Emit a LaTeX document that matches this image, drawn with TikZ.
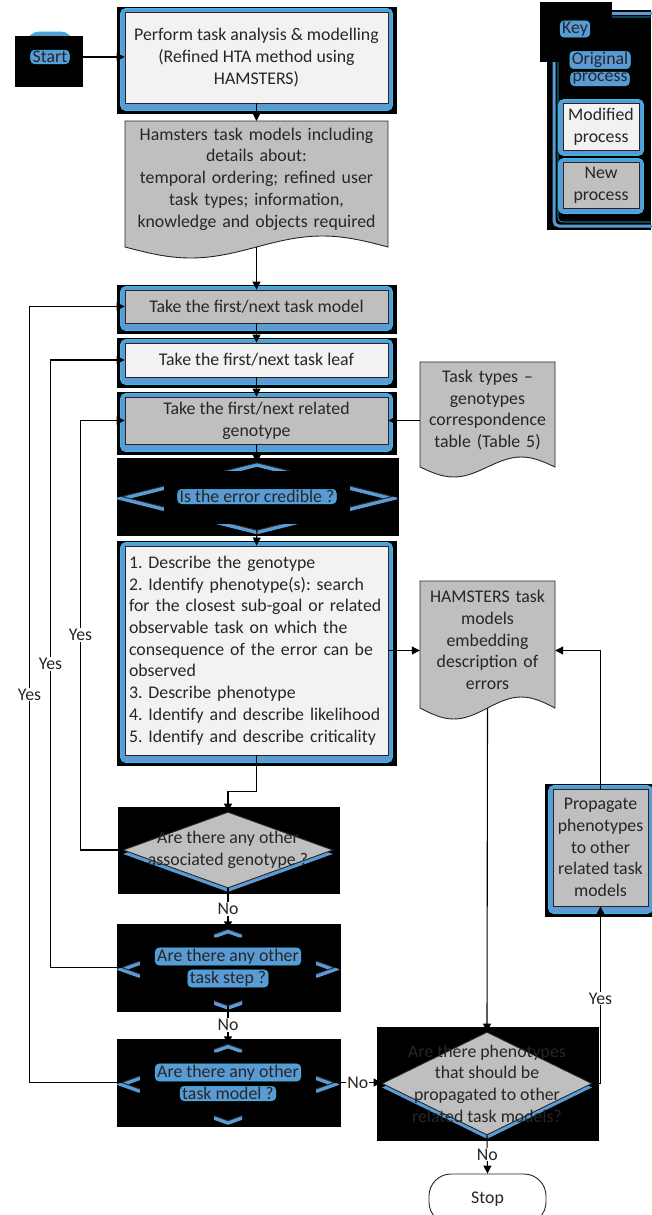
\documentclass[tikz,border=0pt]{standalone}
\usepackage{fontspec}
\setmainfont{Carlito}
\frenchspacing
\usetikzlibrary{arrows.meta,calc,shapes.geometric,backgrounds}
\definecolor{shadowblue}{RGB}{91,155,213}
\definecolor{edgecyan}{RGB}{45,190,235}
\definecolor{boxgray}{RGB}{191,191,191}
\definecolor{boxlight}{RGB}{242,242,242}
\definecolor{ink}{RGB}{38,38,38}

\begin{document}
\begin{tikzpicture}[x=1pt,y=-1pt,>={Triangle[length=8pt,width=8pt]},
  every node/.style={font=\fontsize{17.8}{21.7}\selectfont,text=ink},
  proc/.style={draw=ink,line width=0.9pt,inner sep=0pt,align=center,minimum width=263pt},
  doctext/.style={inner xsep=4pt,align=center},
  docshape/.style={fill=boxgray,draw=ink,line width=0.9pt},
  boxshadow/.style={fill=shadowblue,draw=edgecyan,line width=0.8pt,rounded corners=5pt},
  dia/.style={shape=diamond,inner sep=0pt,minimum width=210pt,minimum height=76pt},
  graydia/.style={dia,fill=boxgray,draw=ink,line width=0.9pt,
    preaction={fill=shadowblue,transform canvas={yshift=-4pt}}},
  hl/.style={fill=shadowblue,draw=edgecyan,line width=0.5pt,rounded corners=4pt,
    inner xsep=2pt,inner ysep=1pt},
  lbl/.style={fill=white,inner sep=1pt},
  flow/.style={draw=black,line width=1.1pt,->}]
  \useasboundingbox (0,0) rectangle (651,1215);

  % main column
  \node[hl] (start) at (50,57) {Start};
  \node[proc,fill=boxlight,minimum height=91pt] (perform) at (256.5,57.5)
    {Perform task analysis \& modelling\\(Refined HTA method using\\HAMSTERS)};
  \node[doctext,text width=255pt] (tasksdoc) at (256.5,179)
    {Hamsters task models including\\details about:\\temporal ordering; refined user\\task types; information,\\knowledge and objects required};
  \coordinate (tasksdoct) at (256.5,121);
  \coordinate (tasksdocb) at (256.5,247);
  \node[proc,fill=boxgray,minimum height=33pt] (taskmodel) at (256.5,306.5) {Take the first/next task model};
  \node[proc,fill=boxlight,minimum height=34pt] (taskleaf) at (256.5,360) {Take the first/next task leaf};
  \node[proc,fill=boxgray,minimum height=47pt] (genotype) at (256.5,420.5) {Take the first/next related\\genotype};
  \node[dia,minimum width=270pt,minimum height=67pt] (credible) at (257,496.5) {};
  \node[proc,fill=boxlight,minimum height=209pt,align=left,text width=255pt,inner xsep=4pt] (describe) at (256.5,650.5)
    {1. Describe the genotype\\2. Identify phenotype(s): search\\for the closest sub-goal or related\\observable task on which the\\consequence of the error can be\\observed\\3. Describe phenotype\\4. Identify and describe likelihood\\5. Identify and describe criticality};
  \node[graydia] (anyassoc) at (228,850) {};
  \node[align=center] (anyassoctxt) at (anyassoc) {Are there any other\\associated genotype ?};
  \node[dia,minimum width=212pt] (anystep) at (228,967.5) {};
  \node[dia,minimum width=212pt] (anymodel) at (228,1082.5) {};

  % right column
  \node[doctext,text width=127pt] (typesdoc) at (487.5,410)
    {Task types –\\genotypes\\correspondence\\table (Table 5)};
  \node[doctext,text width=127pt] (hamdoc) at (487.5,640)
    {HAMSTERS task\\models\\embedding\\description of\\errors};
  \coordinate (hamdocb) at (487.5,708);
  \node[proc,fill=boxgray,minimum width=95pt,minimum height=117pt] (propagate) at (600.5,847.5)
    {Propagate\\phenotypes\\to other\\related task\\models};
  \node[graydia,minimum height=103pt] (propq) at (487,1083.5) {};
  \node[align=center] (propqtxt) at (propq)
    {Are there phenotypes\\that should be\\propagated to other\\related task models?};
  \node[draw=ink,line width=0.9pt,fill=white,rounded corners=22pt,minimum width=117pt,minimum height=50pt] (stop) at (487.5,1199) {Stop};

  % key
  \node[hl] (keytitle) at (575,29) {Key};
  \node[hl] (keyorig1) at (600,60) {Original};
  \node[hl] (keyorig2) at (600,79) {process};
  \node[proc,fill=boxlight,minimum width=76pt,minimum height=47pt] (keymod) at (601,126.5) {Modified\\process};
  \node[proc,fill=boxgray,minimum width=76pt,minimum height=46pt] (keynew) at (601,185) {New\\process};

  % pieces of the dark decisions
  \foreach \q/\cx/\cy/\tx in {credible/42/15/44,anystep/18/10/14,anymodel/18/10/14}{
    \begin{scope}
      \clip ($(\q.west)+(-5,-\cy)$) rectangle ($(\q.west)+(\cx,\cy)$)
            ($(\q.east)+(5,-\cy)$) rectangle ($(\q.east)+(-\cx,\cy)$)
            ($(\q.north)+(-\tx,-4)$) rectangle ($(\q.north)+(\tx,8)$)
            ($(\q.south)+(-\tx,-6)$) rectangle ($(\q.south)+(\tx,6)$);
      \draw[shadowblue,line width=4pt] ([yshift=-2pt]\q.north) -- ([yshift=-2pt]\q.east)
        -- ([yshift=-2pt]\q.south) -- ([yshift=-2pt]\q.west) -- cycle;
      \draw[ink,line width=0.9pt] (\q.north) -- (\q.east) -- (\q.south) -- (\q.west) -- cycle;
    \end{scope}
  }
  \node[hl] (credibletxt) at (credible) {Is the error credible ?};
  \node[hl] (anysteptxt1) at ($(anystep)+(0,-11)$) {Are there any other};
  \node[hl] (anysteptxt2) at ($(anystep)+(0,11)$) {task step ?};
  \node[hl] (anymodeltxt1) at ($(anymodel)+(0,-10)$) {Are there any other};
  \node[hl] (anymodeltxt2) at ($(anymodel)+(0,11)$) {task model ?};

  % connectors
  \draw[flow] (start.east) -- (start.east -| perform.west);
  \draw[flow] (perform.south) -- (tasksdoct);
  \draw[flow] (tasksdocb) -- (taskmodel.north);
  \draw[flow] (taskmodel.south) -- (taskleaf.north);
  \draw[flow] (taskleaf.south) -- (genotype.north);
  \draw[flow] (genotype.south) -- (credible.north);
  \draw[flow] (credible.south) -- (describe.north);
  \draw[flow] (describe.south) -- ++(0,36) -| (anyassoc.north);
  \draw[flow] (anyassoc.south) -- node[lbl] (no1) {No} (anystep.north);
  \draw[flow] (anystep.south) -- node[lbl] (no2) {No} (anymodel.north);
  \draw[flow] (anymodel.east) -- node[lbl] (no3) {No} (anymodel.east -| propq.west);
  \draw[flow] (propq.south) -- node[lbl] (no4) {No} (stop.north);
  \draw[flow] (anyassoc.west) -| node[lbl,pos=0.75] (yes1) {Yes} ($(genotype.west)+(-44,0)$) -- (genotype.west);
  \draw[flow] (anystep.west) -| node[lbl,pos=0.75] (yes2) {Yes} ($(taskleaf.west)+(-74,0)$) -- (taskleaf.west);
  \draw[flow] (anymodel.west) -| node[lbl,pos=0.75] (yes3) {Yes} ($(taskmodel.west)+(-95,0)$) -- (taskmodel.west);
  \draw[flow] (describe.east) -- (describe.east -| hamdoc.west);
  \draw[flow] (typesdoc.west |- genotype.east) -- (genotype.east);
  \draw[flow] (hamdocb) -- (propq.north);
  \draw[flow] (propq.east) -| node[lbl,pos=0.74] (yes4) {Yes} (propagate.south);
  \draw[flow] (propagate.north) |- (describe.east -| hamdoc.east);

  \begin{scope}[on background layer]
    % start
    \filldraw[boxshadow,rounded corners=12pt] (27,32) rectangle (73,86);
    \fill[black] (15,36) rectangle (83,87);
    % process boxes
    \foreach \b in {perform,taskmodel,taskleaf,genotype,describe,propagate}{
      \fill[black] ($(\b.north west)+(-8,-5)$) rectangle ($(\b.south east)+(9,11)$);
      \filldraw[boxshadow] ($(\b.north west)+(-4,-3)$) rectangle ($(\b.south east)+(4,7)$);
    }
    % decisions
    \foreach \q in {credible,anyassoc,anystep,anymodel,propq}
      \fill[black] ($(\q.north -| \q.west)+(-5,-5)$) rectangle ($(\q.south -| \q.east)+(7,6)$);
    % documents
    \filldraw[docshape] (125,121) -- (388,121) -- (388,247) sin (322.25,236) cos (256.5,247)
      sin (190.75,258) cos (125,247) -- cycle;
    \filldraw[docshape] (420,362) -- (555,362) -- (555,467) sin (521.25,457) cos (487.5,467)
      sin (453.75,477) cos (420,467) -- cycle;
    \filldraw[docshape] (420,581) -- (555,581) -- (555,708) sin (521.25,697) cos (487.5,708)
      sin (453.75,719) cos (420,708) -- cycle;
    % key
    \fill[black] (547,10) rectangle (651,230);
    \draw[shadowblue,line width=3pt,rounded corners=5pt] (554,13.5) rectangle (664,226);
    \draw[edgecyan,line width=0.7pt,rounded corners=4pt] (558,17) rectangle (664,222);
    \fill[black] (540,2) rectangle (612,62);
    \foreach \b in {keymod,keynew}
      \filldraw[boxshadow] ($(\b.north west)+(-4,-3)$) rectangle ($(\b.south east)+(4,5)$);
  \end{scope}
\end{tikzpicture}
\end{document}
